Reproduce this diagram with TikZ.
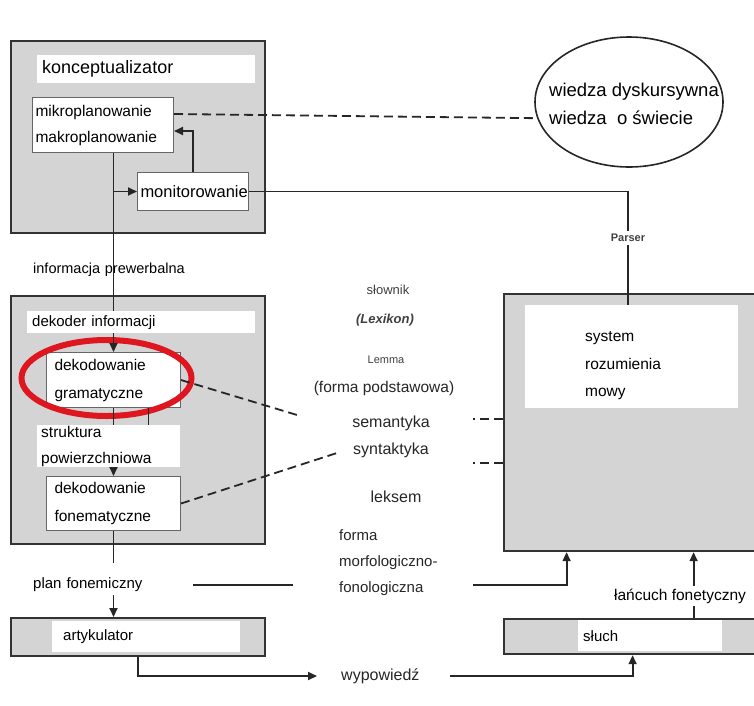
\documentclass[tikz,border=0pt]{standalone}
\usepackage{fontspec}
\setmainfont{Liberation Sans}
\usetikzlibrary{arrows.meta, shapes.geometric, positioning}
\definecolor{ringred}{RGB}{222,22,32}
\begin{document}
\begin{tikzpicture}[
    x=1pt, y=-1pt,
    panel/.style={draw=black!80, line width=2.2pt, fill=black!17, anchor=north west, inner sep=0pt},
    wlbl/.style={fill=white, anchor=north west, inner xsep=5pt, inner ysep=0pt, align=left},
    wbox/.style={draw=black!60, line width=1pt, fill=white, anchor=north west, inner xsep=3pt, inner ysep=0pt, align=left},
    ln/.style={line width=1.8pt, draw=black!85},
    arr/.style={ln, -{Triangle[length=9pt, width=8pt]}},
    dashln/.style={ln, dashed, dash pattern=on 9pt off 5pt},
    mid/.style={font=\fontsize{15.5}{18}\selectfont, text=black!85, inner sep=0pt},
    ring/.style={draw=ringred, line width=6pt}
]
\useasboundingbox (0,0) rectangle (754,705);

% konceptualizator
\node[panel, minimum width=254, minimum height=192] (konz) at (10,40) {};
\node[wlbl, minimum width=218, minimum height=28, text width=208, font=\fontsize{18}{20}\selectfont] (konzlbl) at (37,55) {konceptualizator};
\node[wbox, minimum width=141, minimum height=55, text width=135, font=\fontsize{15.5}{26}\selectfont] (plan) at (32,97) {mikroplanowanie\\makroplanowanie};
\node[wbox, minimum width=111, minimum height=38, text width=105, font=\fontsize{16.5}{20}\selectfont] (monit) at (137,172) {monitorowanie};

\node[draw=black!85, line width=1.6pt, ellipse, minimum width=188, minimum height=130] (wiss) at (629,102) {};
\node[align=left, font=\fontsize{18.5}{28}\selectfont, inner sep=0pt] (wisstxt) at (634,104) {wiedza dyskursywna\\wiedza\ \ o świecie};

\node[font=\bfseries\fontsize{11}{12}\selectfont, text=black!75] (parser) at (628,238) {Parser};

\node[wlbl, minimum width=162, minimum height=24, text width=152, font=\fontsize{14.5}{18}\selectfont] (prev) at (28,258) {informacja prewerbalna};

% dekoder
\node[panel, minimum width=254, minimum height=248] (dek) at (10,295) {};
\node[wlbl, minimum width=228, minimum height=22, text width=218, font=\fontsize{15}{18}\selectfont] (deklbl) at (27,311) {dekoder informacji};
\node[wbox, minimum width=134, minimum height=55, inner xsep=8pt, text width=118, font=\fontsize{15.5}{28}\selectfont] (gram) at (46,352) {dekodowanie\\gramatyczne};
\node[wlbl, minimum width=143, minimum height=42, inner xsep=4pt, text width=135, font=\fontsize{15.5}{26}\selectfont] (strukt) at (37,425) {struktura\\powierzchniowa};
\node[wbox, minimum width=134, minimum height=54, inner xsep=8pt, text width=118, font=\fontsize{15.5}{28}\selectfont] (fonem) at (46,476) {dekodowanie\\fonematyczne};

% system
\node[panel, minimum width=257, minimum height=257] (sys) at (503,293) {};
\node[fill=white, anchor=north west, minimum width=213, minimum height=103, inner sep=0pt] (sysin) at (525,305) {};
\node[anchor=west, align=left, font=\fontsize{15.5}{27.5}\selectfont, inner sep=0pt] (systxt) at (585,366) {system\\rozumienia\\mowy};

% slownik
\node[mid, font=\fontsize{13}{15}\selectfont, text=black!75] (slow) at (388,290) {słownik};
\node[mid, font=\bfseries\itshape\fontsize{13}{15}\selectfont, text=black!75] (lex) at (385,320) {(Lexikon)};
\node[mid, font=\fontsize{11}{13}\selectfont, text=black!75] (lemma) at (386,360) {Lemma};
\node[mid] (podst) at (384,388) {(forma podstawowa)};
\node[mid, font=\fontsize{16}{18}\selectfont] (sem) at (391,423) {semantyka};
\node[mid, font=\fontsize{16}{18}\selectfont] (syn) at (391,450) {syntaktyka};
\node[mid, font=\fontsize{16}{18}\selectfont] (leks) at (396,497) {leksem};
\node[mid, anchor=west, align=left, font=\fontsize{15}{26}\selectfont] (morph) at (339,563) {forma\\morfologiczno-\\fonologiczna};
\node[mid, anchor=west, font=\fontsize{16}{18}\selectfont] (wyp) at (341,676) {wypowiedź};

% dol
\node[wlbl, minimum width=162, minimum height=42, text width=152, font=\fontsize{15}{18}\selectfont] (fonplan) at (28,563) {plan fonemiczny};
\node[panel, minimum width=254, minimum height=38] (artyk) at (10,617) {};
\node[wlbl, minimum width=188, minimum height=31, inner xsep=11pt, text width=166, font=\fontsize{15}{18}\selectfont] (artlbl) at (52,621) {artykulator};
\node[panel, minimum width=257, minimum height=35] (sluch) at (503,618) {};
\node[wlbl, minimum width=144, minimum height=31, text width=134, font=\fontsize{15}{18}\selectfont] (sluchlbl) at (578,620) {słuch};

\draw[ring] ([xshift=-7pt,yshift=2pt]gram.center) ellipse[x radius=85pt, y radius=38pt];

\draw[arr] (monit.north) |- ([yshift=-6pt]plan.east);
\draw[dashln] ([yshift=11pt]plan.east) -- (wiss.190);
\draw[ln] (plan.south -| gram.north) -- (deklbl.north -| gram.north);
\draw[arr] (deklbl.south -| gram.north) -- (gram.north);
\draw[arr] (monit.west -| gram.north) -- (monit.west);
\draw[ln] (monit.east) -| (parser.north);
\draw[ln] (parser.south) -- (parser.south |- sysin.north);
\draw[ln] (gram.south) -- (gram.south |- strukt.north);
\draw[ln] ([xshift=35pt]gram.south) -- ([xshift=35pt]gram.south |- strukt.north);
\draw[arr] (strukt.south -| fonem.north) -- (fonem.north);
\draw[ln] (fonem.south) -- (fonem.south |- fonplan.north);
\draw[arr] ([yshift=10pt]fonplan.south -| fonem.south) -- (artyk.north -| fonem.south);
\draw[arr] (artyk.south) |- ([xshift=-24pt]wyp.west);
\draw[arr] ([xshift=30pt]wyp.east) -| (sluch.south);
\draw[dashln] (gram.east) -- ([xshift=-55pt,yshift=8pt]sem.west);
\draw[dashln] (fonem.east) -- ([xshift=-13pt,yshift=-2pt]syn.west);
\draw[dashln] ([yshift=4pt]sys.west) -- ++(-30,0);
\draw[dashln] ([yshift=-40pt]sys.west) -- ++(-30,0);
\draw[ln] ([xshift=3pt,yshift=-1pt]fonplan.east) -- ([xshift=-46pt,yshift=-1pt]fonplan.east -| morph.west);
\draw[arr] ([xshift=134pt,yshift=-1pt]fonplan.east -| morph.west) -| ([xshift=-66pt]sys.south);
\draw[arr] ([xshift=61pt]sluch.north) -- ([xshift=61pt]sys.south);
\node[fill=white, inner xsep=2pt, inner ysep=3pt, font=\fontsize{15.5}{18}\selectfont] (fonet) at (680,596) {łańcuch fonetyczny};
\end{tikzpicture}
\end{document}
